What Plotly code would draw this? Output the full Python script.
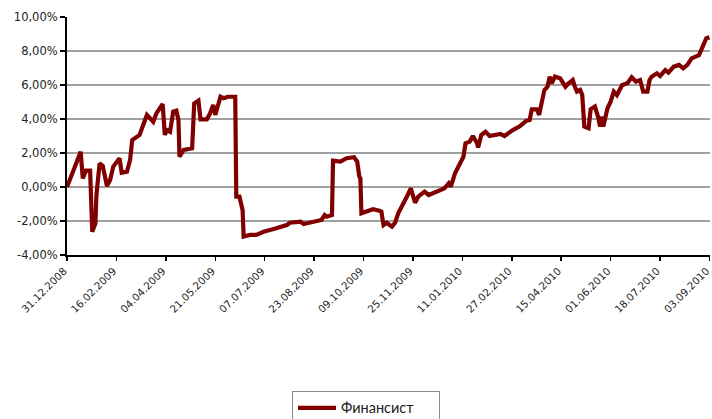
import plotly.graph_objects as go

series_name = "Финансист"

dates = [
    "2008-12-31", "2009-01-13", "2009-01-15", "2009-01-18", "2009-01-22", "2009-01-24",
    "2009-01-27", "2009-01-28", "2009-01-31", "2009-02-03", "2009-02-07", "2009-02-10",
    "2009-02-13", "2009-02-19", "2009-02-21", "2009-02-26", "2009-03-01", "2009-03-03",
    "2009-03-10", "2009-03-13", "2009-03-17", "2009-03-23", "2009-03-26", "2009-04-01",
    "2009-04-03", "2009-04-05", "2009-04-08", "2009-04-11", "2009-04-14", "2009-04-16",
    "2009-04-17", "2009-04-21", "2009-04-29", "2009-05-01", "2009-05-05", "2009-05-07",
    "2009-05-13", "2009-05-16", "2009-05-19", "2009-05-21", "2009-05-24", "2009-05-26",
    "2009-05-29", "2009-06-02", "2009-06-09", "2009-06-10", "2009-06-13", "2009-06-15",
    "2009-06-16", "2009-06-17", "2009-06-23", "2009-06-29", "2009-07-06", "2009-07-18",
    "2009-07-28", "2009-07-31", "2009-08-10", "2009-08-13", "2009-08-22", "2009-08-30",
    "2009-09-02", "2009-09-04", "2009-09-09", "2009-09-10", "2009-09-17", "2009-09-23",
    "2009-09-30", "2009-10-03", "2009-10-05", "2009-10-06", "2009-10-07", "2009-10-12",
    "2009-10-18", "2009-10-24", "2009-10-26", "2009-10-28", "2009-10-31", "2009-11-05",
    "2009-11-08", "2009-11-11", "2009-11-15", "2009-11-20", "2009-11-23", "2009-11-27",
    "2009-11-30", "2009-12-06", "2009-12-10", "2009-12-14", "2009-12-21", "2009-12-25",
    "2009-12-29", "2009-12-31", "2010-01-04", "2010-01-12", "2010-01-14", "2010-01-18",
    "2010-01-21", "2010-01-25", "2010-01-26", "2010-01-29", "2010-02-02", "2010-02-06",
    "2010-02-16", "2010-02-20", "2010-02-28", "2010-03-07", "2010-03-13", "2010-03-16",
    "2010-03-18", "2010-03-23", "2010-03-25", "2010-03-30", "2010-04-02", "2010-04-04",
    "2010-04-06", "2010-04-09", "2010-04-14", "2010-04-19", "2010-04-22", "2010-04-26",
    "2010-04-28", "2010-04-30", "2010-05-03", "2010-05-05", "2010-05-07", "2010-05-11",
    "2010-05-13", "2010-05-17", "2010-05-20", "2010-05-22", "2010-05-24", "2010-05-25",
    "2010-05-29", "2010-06-01", "2010-06-04", "2010-06-07", "2010-06-12", "2010-06-17",
    "2010-06-21", "2010-06-25", "2010-06-29", "2010-07-02", "2010-07-06", "2010-07-08",
    "2010-07-10", "2010-07-15", "2010-07-18", "2010-07-23", "2010-07-26", "2010-07-31",
    "2010-08-05", "2010-08-09", "2010-08-13", "2010-08-17", "2010-08-24", "2010-08-28",
    "2010-08-31", "2010-09-03",
]

values = [
    0.00, 2.08, 0.51, 0.96, 0.96, -2.63,
    -2.14, -0.47, 1.39, 1.24, 0.06, 0.41,
    1.20, 1.69, 0.84, 0.90, 1.59, 2.76,
    3.06, 3.55, 4.24, 3.84, 4.33, 4.88,
    3.06, 3.35, 3.25, 4.43, 4.49, 3.94,
    1.78, 2.18, 2.28, 4.92, 5.08, 3.98,
    3.98, 4.33, 4.82, 4.24, 4.82, 5.31,
    5.22, 5.31, 5.31, -0.57, -0.57, -1.35,
    -1.35, -2.92, -2.82, -2.82, -2.63, -2.43,
    -2.24, -2.10, -2.04, -2.18, -2.04, -1.94,
    -1.65, -1.75, -1.65, 1.55, 1.49, 1.69,
    1.75, 1.49, 0.61, 0.51, -1.55, -1.45,
    -1.31, -1.39, -1.45, -2.24, -2.10, -2.33,
    -2.10, -1.55, -1.12, -0.47, -0.08, -0.92,
    -0.57, -0.27, -0.47, -0.37, -0.18, -0.08,
    0.22, 0.02, 0.80, 1.78, 2.57, 2.67,
    3.00, 2.57, 2.33, 3.06, 3.25, 3.00,
    3.12, 3.00, 3.35, 3.59, 3.90, 3.94,
    4.57, 4.57, 4.24, 5.71, 5.90, 6.49,
    6.10, 6.49, 6.39, 5.90, 6.10, 6.29,
    5.90, 5.61, 5.71, 5.41, 3.55, 3.45,
    4.57, 4.73, 4.14, 3.55, 4.14, 3.55,
    4.63, 5.02, 5.61, 5.41, 6.00, 6.10,
    6.45, 6.20, 6.29, 5.61, 5.61, 6.29,
    6.49, 6.69, 6.53, 6.88, 6.73, 7.08,
    7.18, 6.98, 7.18, 7.57, 7.76, 8.25,
    8.75, 8.80,
]

x_tick_dates = [
    "2008-12-31", "2009-02-16", "2009-04-04", "2009-05-21", "2009-07-07", "2009-08-23",
    "2009-10-09", "2009-11-25", "2010-01-11", "2010-02-27", "2010-04-15", "2010-06-01",
    "2010-07-18", "2010-09-03",
]
x_tick_labels = [
    "31.12.2008", "16.02.2009", "04.04.2009", "21.05.2009", "07.07.2009", "23.08.2009",
    "09.10.2009", "25.11.2009", "11.01.2010", "27.02.2010", "15.04.2010", "01.06.2010",
    "18.07.2010", "03.09.2010",
]
y_tick_values = [-4, -2, 0, 2, 4, 6, 8, 10]
y_tick_labels = ["-4,00%", "-2,00%", "0,00%", "2,00%", "4,00%", "6,00%", "8,00%", "10,00%"]

fig = go.Figure()
fig.add_trace(go.Scatter(
    x=dates, y=values, mode="lines", name=series_name,
    line=dict(color="#800000", width=4.2),
))

fig.update_layout(
    width=712, height=419,
    margin=dict(l=67, r=2, t=17, b=164, autoexpand=False),
    paper_bgcolor="white", plot_bgcolor="white",
    font=dict(family="DejaVu Sans", color="#222222"),
    showlegend=True,
    legend=dict(
        orientation="h", x=0.465, xanchor="center", y=-0.571, yanchor="top",
        bordercolor="#8c8c8c", borderwidth=1,
        font=dict(family="Lato", size=14.5, color="#222222"),
        entrywidth=93, entrywidthmode="pixels",
        itemwidth=38,
    ),
    xaxis=dict(
        type="date",
        range=["2008-12-31", "2010-09-03 12:00"],
        tickvals=x_tick_dates, ticktext=x_tick_labels,
        tickangle=-45,
        ticklabeloverflow="allow",
        ticklabelshift=-3,
        tickfont=dict(family="DejaVu Sans", size=10.3, color="#222222"),
        showgrid=False, automargin=False,
        showline=True, linecolor="black", linewidth=2,
        ticks="outside", ticklen=4, tickcolor="black", tickwidth=1.5,
        zeroline=False,
    ),
    yaxis=dict(
        range=[-4, 10], automargin=False,
        tickvals=y_tick_values, ticktext=y_tick_labels,
        tickfont=dict(family="DejaVu Sans", size=11.5, color="#222222"),
        showgrid=True, gridcolor="#a0a0a0", gridwidth=1.5,
        showline=True, linecolor="black", linewidth=2,
        ticks="outside", ticklen=5, tickcolor="black", tickwidth=1.5,
        zeroline=False,
    ),
)

# remove the default page margin so the 712x419 figure fills the window exactly
fig.write_html(
    "out.html",
    config={"displayModeBar": False, "staticPlot": True},
    post_script="document.body.style.margin='0';document.body.style.overflow='hidden';",
)
